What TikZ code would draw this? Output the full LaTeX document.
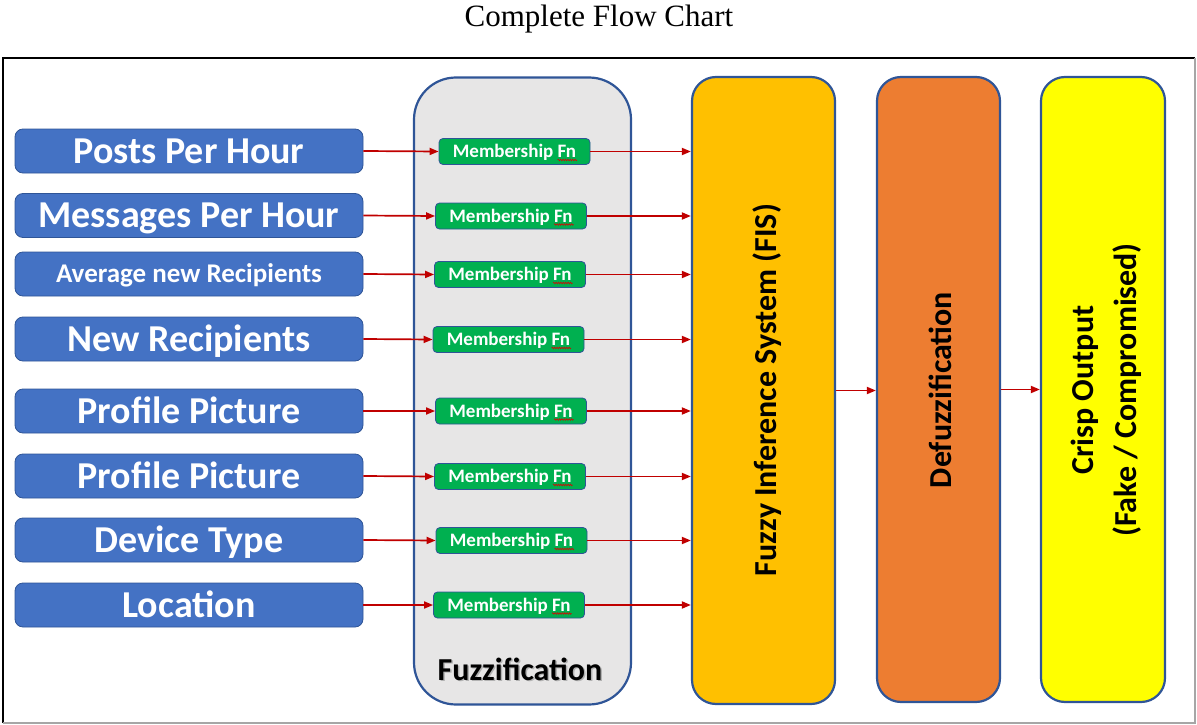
\documentclass[tikz,border=0pt]{standalone}
\usepackage{fontspec}
\setmainfont{Liberation Serif}
\newfontfamily\calfont{Carlito}
\usetikzlibrary{arrows.meta,decorations.pathmorphing}

\definecolor{inblue}{HTML}{4472C4}
\definecolor{edgeblue}{HTML}{2F5597}
\definecolor{mfgreen}{HTML}{00B050}
\definecolor{fuzzgray}{HTML}{E7E6E6}
\definecolor{fisorange}{HTML}{FFC000}
\definecolor{defzorange}{HTML}{ED7D31}
\definecolor{crispyellow}{HTML}{FFFF00}
\definecolor{arrowred}{HTML}{C00000}

\tikzset{
  inputbox/.style={draw=edgeblue, line width=0.8pt, fill=inblue, rounded corners=8pt,
    minimum width=348pt, minimum height=44pt, inner sep=0pt, text=white,
    text height=24pt, text depth=0pt,
    font=\calfont\bfseries\fontsize{38}{40}\selectfont},
  smallinput/.style={text height=17.5pt,
    font=\calfont\bfseries\fontsize{27}{29}\selectfont},
  mfbox/.style={draw=edgeblue, line width=0.8pt, fill=mfgreen, rounded corners=4pt,
    minimum width=151pt, minimum height=26pt, inner sep=0pt, text=white,
    text height=12pt, text depth=0pt,
    font=\calfont\bfseries\fontsize{19}{21}\selectfont},
  stagebox/.style={draw=edgeblue, line width=2.2pt, rounded corners=24pt, inner sep=0pt},
  stagetext/.style={rotate=90, inner sep=0pt, align=center,
    font=\calfont\bfseries\fontsize{32}{43}\selectfont},
  flow/.style={draw=arrowred, line width=1.7pt, -{Triangle[length=9pt,width=7pt]}},
  squig/.style={draw=red!85!black, line width=0.6pt,
    decorate, decoration={snake, segment length=2.4pt, amplitude=0.8pt}}
}

\begin{document}
\begin{tikzpicture}[x=1pt,y=-1pt]
\useasboundingbox (0,0) rectangle (1197,725);

% title
\node[font=\fontsize{31}{34}\selectfont, inner sep=0pt] (title) at (599,19) {Complete Flow Chart};

% frame
\draw[black, line width=1.3pt] (3,723) -- (3,58) -- (1195,58);
\draw[black!35, line width=1.3pt] (1195,58) -- (1195,723) -- (3,723);

% fuzzification container
\node[draw=edgeblue, line width=2.2pt, fill=fuzzgray, rounded corners=42pt,
      minimum width=217pt, minimum height=627pt, inner sep=0pt] (fuzz) at (522.5,391) {};
\node[font=\calfont\bfseries\fontsize{32}{34}\selectfont, inner sep=0pt, text=black!30] (fuzzshadow) at (521.5,670.5) {Fuzzification};
\node[font=\calfont\bfseries\fontsize{32}{34}\selectfont, inner sep=0pt] (fuzzlabel) at (520,669) {Fuzzification};

% later stages
\node[stagebox, fill=fisorange, minimum width=143pt, minimum height=627pt] (fis) at (763.5,390.5) {};
\node[stagetext] (fistext) at (767,390) {Fuzzy Inference System (FIS)};

\node[stagebox, fill=defzorange, minimum width=123pt, minimum height=625pt] (defz) at (938.5,389.5) {};
\node[stagetext] (defztext) at (940,390) {Defuzzification};

\node[stagebox, fill=crispyellow, minimum width=124pt, minimum height=625pt] (crisp) at (1103,389.5) {};
\node[stagetext] (crisptext) at (1106,390) {Crisp Output\\(Fake / Compromised)};

% inputs and membership functions
\foreach \i/\yin/\xm/\ym/\opt/\txt in {
  1/151/514.5/151.5/{}/{Posts Per Hour},
  2/215.5/511/216/{}/{Messages Per Hour},
  3/274/510/274.5/{smallinput}/{Average new Recipients},
  4/339/508.5/339.5/{}/{New Recipients},
  5/411/511/411/{}/{Profile Picture},
  6/476/510/476.5/{}/{Profile Picture},
  7/540/511.5/540.5/{}/{Device Type},
  8/605/509/605/{}/{Location}} {
  \node[inputbox, \opt] (in\i) at (189,\yin) {\txt};
  \node[mfbox] (mf\i) at (\xm,\ym) {Membership Fn};
  \draw[squig] ([xshift=43pt,yshift=-8.5pt]mf\i.center) -- ([xshift=62.5pt,yshift=-8.5pt]mf\i.center);
  \draw[flow] (in\i.east) -- (mf\i.west);
  \draw[flow] (mf\i.east) -- (mf\i.east -| fis.west);
}

\draw[flow] (fis.east) -- (fis.east -| defz.west);
\draw[flow] (defz.east) -- (defz.east -| crisp.west);
\end{tikzpicture}
\end{document}
